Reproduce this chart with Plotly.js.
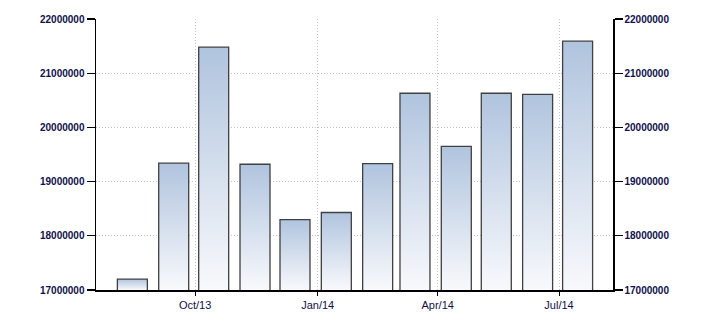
<!DOCTYPE html>
<html>
<head>
<meta charset="utf-8">
<script src="https://cdn.plot.ly/plotly-3.0.1.min.js"></script>
<style>
html,body{margin:0;padding:0;background:#fff;}
#chart{width:710px;height:325px;}
</style>
</head>
<body>
<div id="chart"></div>
<script>
// Data
var months = ['2013-08','2013-09','2013-10','2013-11','2013-12','2014-01',
              '2014-02','2014-03','2014-04','2014-05','2014-06','2014-07'];
var values = [17200000, 19340000, 21480000, 19320000, 18300000, 18430000,
              19330000, 20630000, 19650000, 20630000, 20610000, 21590000];
var yTicks = [17000000, 18000000, 19000000, 20000000, 21000000, 22000000];

var DAY = 86400000;
var BAR_OFFSET = 2.7 * DAY;
var BAR_WIDTH = 22.5 * DAY;
var Y_MIN = 17000000, Y_MAX = 22000000;
var labelColor = '#10104a';
var gridColor = '#c4c4c4';

var traces = [];
// gradient fills (one filled shape per bar, built from the data)
months.forEach(function (m, i) {
  var x0 = Date.parse(m + '-01T00:00:00Z') + BAR_OFFSET;
  var x1 = x0 + BAR_WIDTH;
  traces.push({
    type: 'scatter', mode: 'lines',
    x: [x0, x0, x1, x1, x0],
    y: [Y_MIN, values[i], values[i], Y_MIN, Y_MIN],
    fill: 'toself',
    line: {width: 0, color: 'rgba(0,0,0,0)'},
    fillcolor: '#b0c4de',
    fillgradient: {type: 'vertical', colorscale: [[0, '#f8f9fc'], [1, '#b0c4de']]},
    hoverinfo: 'skip', showlegend: false
  });
});
// bar outlines on the overlaying axis (drawn on top)
traces.push({
  type: 'bar',
  x: months,
  y: values,
  yaxis: 'y2',
  offset: BAR_OFFSET,
  width: BAR_WIDTH,
  marker: {color: 'rgba(0,0,0,0)', line: {color: '#404040', width: 1.3}},
  hoverinfo: 'x+y', showlegend: false
});

var yaxisCommon = {
  range: [Y_MIN, Y_MAX],
  tickvals: yTicks,
  tickformat: 'd',
  ticks: 'outside',
  ticklen: 8,
  tickwidth: 1.3,
  tickcolor: '#000',
  showline: true,
  linecolor: '#000',
  linewidth: 1.5,
  zeroline: false,
  tickfont: {family: 'Liberation Sans, Arial, sans-serif', size: 10, color: labelColor, weight: 'bold'},
  fixedrange: true
};

var layout = {
  width: 710, height: 325,
  margin: {l: 96, r: 97, t: 19, b: 35},
  paper_bgcolor: '#fff',
  plot_bgcolor: '#fff',
  showlegend: false,
  bargap: 0,
  xaxis: {
    type: 'date',
    range: ['2013-07-18 16:00', '2014-08-10 12:00'],
    tick0: '2013-10-01',
    dtick: 'M3',
    tickformat: '%b/%y',
    ticks: 'outside',
    ticklen: 4,
    tickcolor: '#000',
    showgrid: true,
    gridcolor: gridColor,
    griddash: '1px,2px',
    gridwidth: 1,
    showline: true,
    linecolor: '#000',
    linewidth: 1.5,
    zeroline: false,
    tickfont: {family: 'Liberation Sans, Arial, sans-serif', size: 11, color: labelColor}
  },
  yaxis: Object.assign({}, yaxisCommon, {
    side: 'left', showgrid: true, gridcolor: gridColor, griddash: '1px,2px', gridwidth: 1
  }),
  yaxis2: Object.assign({}, yaxisCommon, {
    side: 'right', overlaying: 'y', showgrid: false
  })
};

Plotly.newPlot('chart', traces, layout, {displayModeBar: false, staticPlot: true});
</script>
</body>
</html>
